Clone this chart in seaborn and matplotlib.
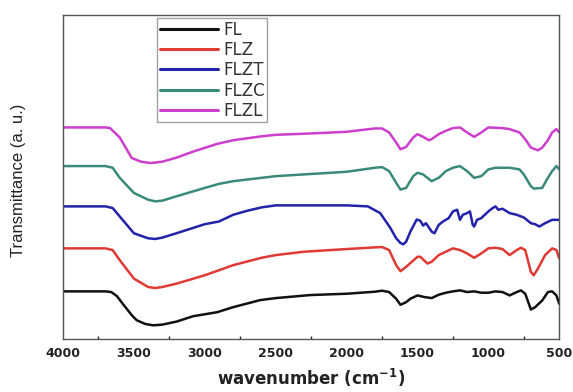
import numpy as np
import pandas as pd
import matplotlib
matplotlib.use("Agg")
import matplotlib.pyplot as plt
import seaborn as sns

# ---- data (arbitrary transmittance units) ----
fl_wn = [4000,3700,3660,3620,3577,3515,3480,3420,3365,3300,3200,3083,2913,2800,2610,2500,2257,2000,1800,1750,1700,1650,1620,1580,1550,1500,1450,1400,1350,1300,1250,1200,1150,1100,1050,1000,950,900,850,800,770,740,700,670,620,580,550,520,500]
fl_t  = [132,132,130,118,94,61,46,35,31,33,42,58,70,85,106,112,121,125,131,134,130,110,92,100,110,120,115,112,122,128,132,135,130,132,128,128,132,130,120,130,135,125,78,85,105,130,132,120,95]

flz_wn = [4000,3700,3650,3600,3500,3400,3350,3300,3200,3000,2900,2800,2600,2500,2300,2000,1800,1750,1700,1650,1620,1580,1500,1480,1430,1400,1350,1250,1200,1150,1100,1050,1000,950,900,850,800,770,740,700,680,650,600,550,520,500]
flz_t  = [260,260,255,225,170,145,142,145,155,180,195,210,232,240,250,258,263,264,255,210,192,205,235,235,215,220,240,260,255,245,232,245,260,262,258,240,255,262,255,190,180,200,240,260,255,230]

flzt_wn = [4000,3700,3650,3600,3500,3400,3350,3300,3200,3000,2900,2800,2700,2600,2500,2000,1850,1763,1693,1650,1620,1600,1580,1550,1505,1480,1460,1440,1400,1380,1350,1320,1300,1280,1250,1220,1200,1180,1150,1130,1110,1100,1080,1050,1000,970,950,930,900,850,800,750,700,670,640,600,550,500]
flzt_t  = [385,385,380,355,305,290,288,292,305,332,340,360,372,382,388,388,385,365,322,290,276,272,280,310,346,342,328,335,310,305,330,340,345,350,370,375,345,360,365,370,330,325,345,350,370,380,385,375,378,365,360,352,335,332,325,335,345,345]

flzc_wn = [4000,3700,3650,3600,3500,3400,3350,3300,3200,3000,2900,2800,2600,2500,2000,1800,1750,1700,1650,1620,1580,1530,1500,1460,1400,1350,1300,1250,1200,1150,1100,1050,1000,950,850,780,750,700,680,620,580,550,520,500]
flzc_t  = [505,505,500,470,425,405,400,402,415,440,452,460,470,475,488,500,502,490,455,435,440,475,485,480,460,470,490,500,505,490,470,475,495,500,500,495,480,445,438,440,470,490,505,495]

flzl_wn = [4000,3700,3668,3600,3515,3450,3383,3300,3200,3083,2913,2800,2610,2500,2257,2000,1800,1750,1700,1650,1620,1580,1530,1500,1460,1420,1400,1350,1300,1250,1200,1150,1100,1050,1000,900,850,780,740,700,650,620,580,550,520,500]
flzl_t  = [620,620,618,590,529,518,514,518,530,548,571,582,593,598,602,607,617,617,605,575,555,562,590,600,592,582,585,600,610,618,620,605,592,605,620,618,615,605,585,560,552,560,582,605,615,605]

samples = ["FL", "FLZ", "FLZT", "FLZC", "FLZL"]
colors = ["#111111", "#e03a35", "#2222aa", "#3a8a7c", "#cc3fcc"]

frames = []
for name, wn, t in zip(samples,
                       [fl_wn, flz_wn, flzt_wn, flzc_wn, flzl_wn],
                       [fl_t, flz_t, flzt_t, flzc_t, flzl_t]):
    frames.append(pd.DataFrame({"wavenumber": wn, "T": t, "sample": name}))
df = pd.concat(frames, ignore_index=True)

sns.set_style("white")
plt.rcParams['font.family'] = ['DejaVu Sans']

fig = plt.figure(figsize=(5.73, 3.92), dpi=100)
ax = fig.add_axes([0.110, 0.135, 0.866, 0.827])

sns.lineplot(data=df, x="wavenumber", y="T", hue="sample", hue_order=samples,
             palette=colors, sort=False, estimator=None, linewidth=1.8, ax=ax)

ax.set_xlim(4000, 500)
ax.set_ylim(-10, 955)
ax.set_xticks([4000, 3500, 3000, 2500, 2000, 1500, 1000, 500])
ax.set_xticks([3750, 3250, 2750, 2250, 1750, 1250, 750], minor=True)
ax.set_yticks([])
ax.tick_params(axis='x', which='major', direction='in', length=4, width=1, labelsize=9, pad=6,
               labelcolor='#222222')
ax.tick_params(axis='x', which='minor', direction='in', length=2.5, width=1, bottom=True)
for lbl in ax.get_xticklabels():
    lbl.set_fontweight('bold')
for s in ax.spines.values():
    s.set_color('#555555')
    s.set_linewidth(1.0)

ax.set_xlabel("wavenumber (cm$^{\\mathbf{-1}}$)", fontsize=12, fontweight='bold', labelpad=5,
              color='#222222')
ax.set_ylabel("Transmittance (a. u.)", fontsize=12, family='Liberation Sans', color='#222222')
ax.yaxis.set_label_coords(-0.075, 0.49)

leg = ax.legend(loc='upper left', bbox_to_anchor=(0.19, 0.99), borderaxespad=0,
                fontsize=12, handlelength=3.5, handletextpad=0.3, labelspacing=0.14,
                frameon=True, fancybox=False, edgecolor='#888888', borderpad=0.15)
for line in leg.get_lines():
    line.set_linewidth(2.2)
for txt in leg.get_texts():
    txt.set_color('#333333')

fig.savefig("out.png", dpi=100)
